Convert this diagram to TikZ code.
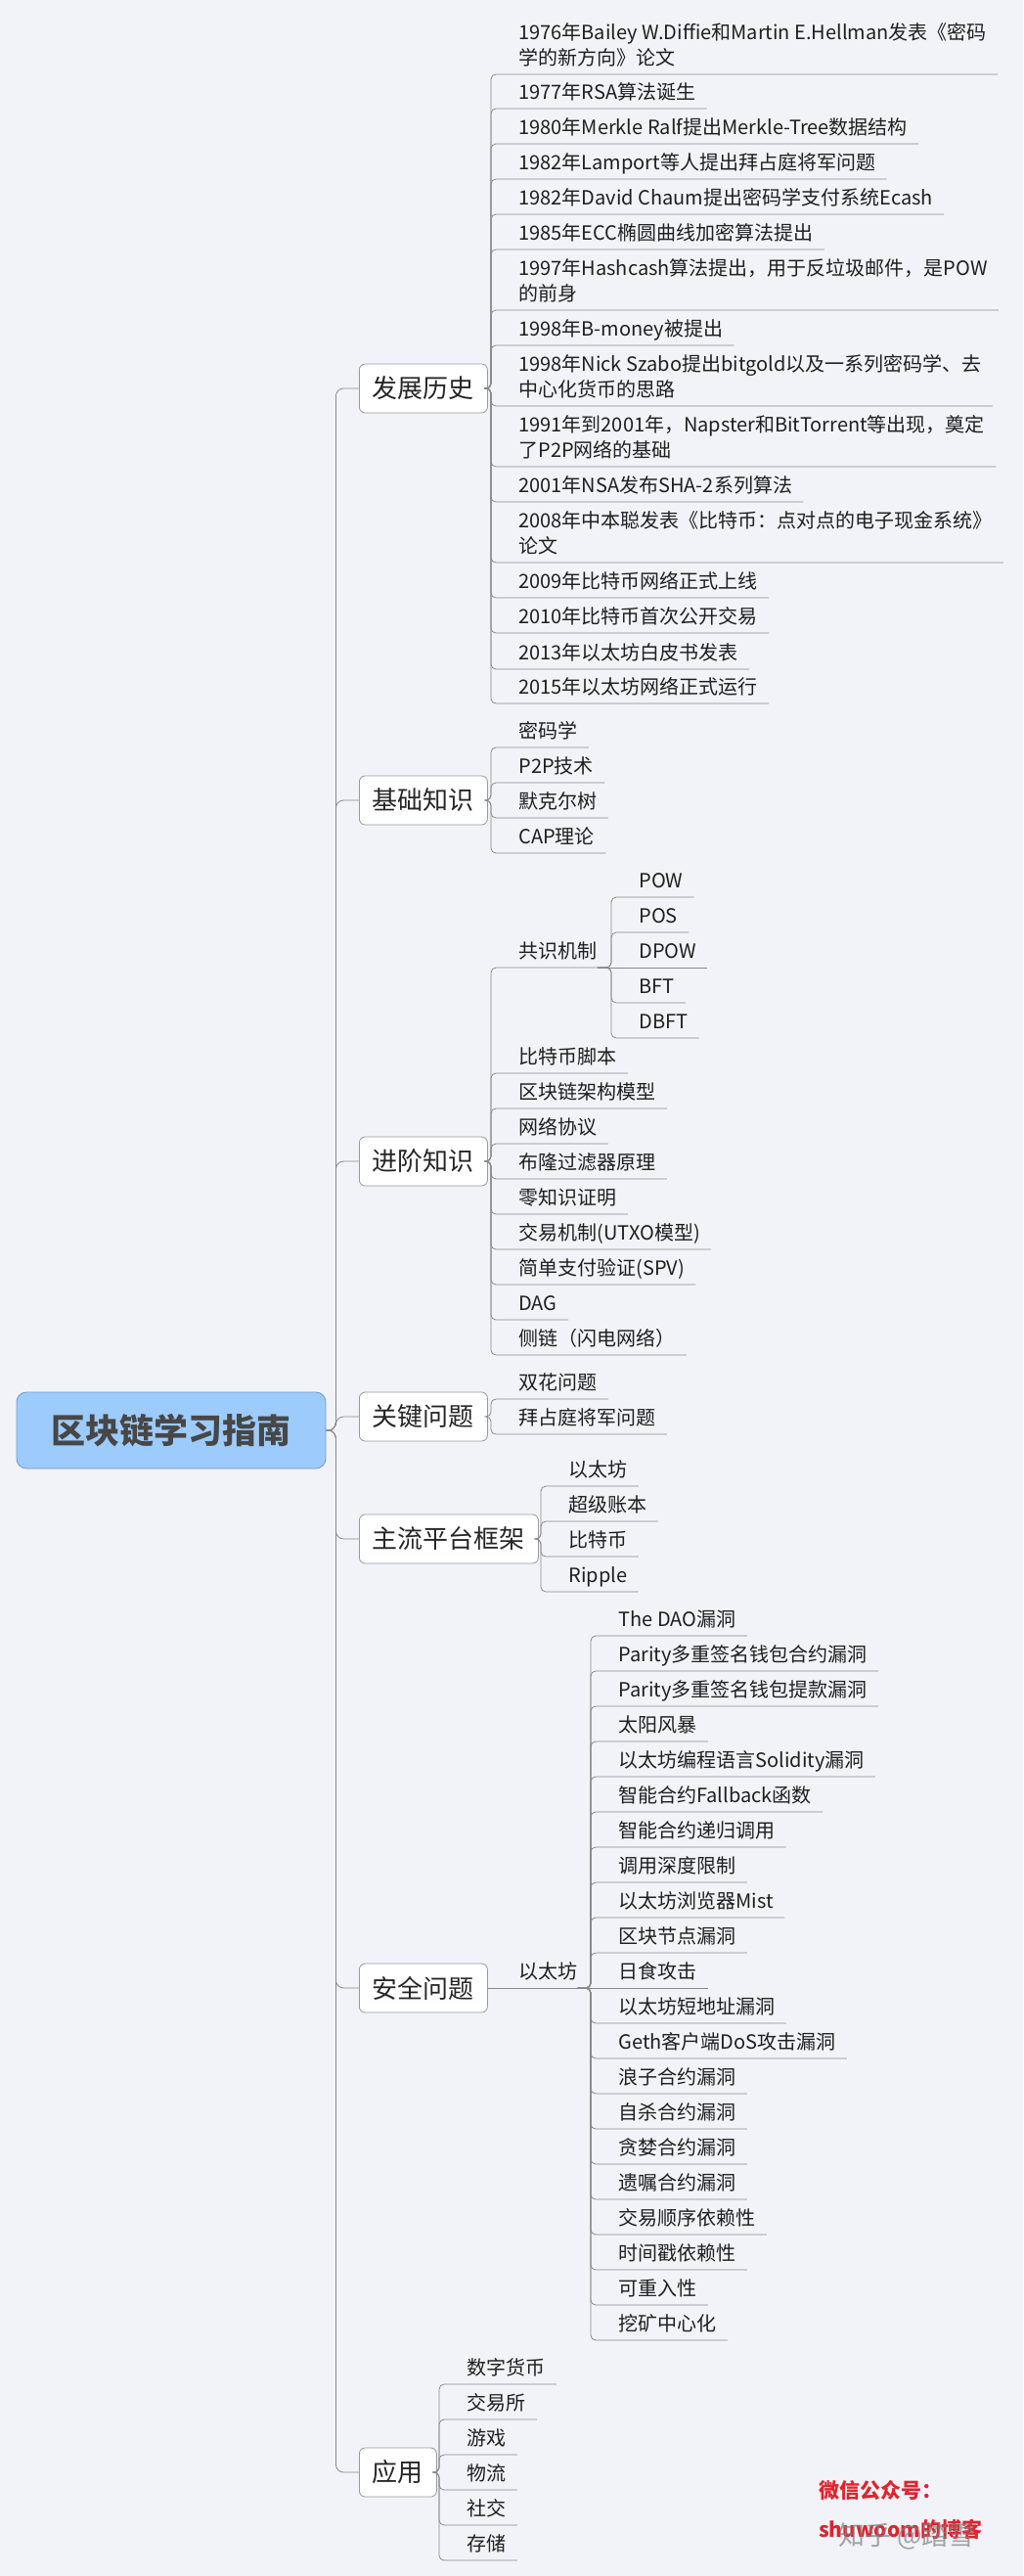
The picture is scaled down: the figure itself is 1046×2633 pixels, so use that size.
\documentclass[tikz,border=0pt]{standalone}
\usepackage{fontspec}
\setmainfont{Noto Sans CJK SC}
\usepackage{tikz}
\usetikzlibrary{positioning}
\definecolor{paper}{RGB}{242,243,248}
\definecolor{rootfill}{RGB}{157,203,252}
\definecolor{rootline}{RGB}{122,150,186}
\definecolor{wire}{RGB}{138,138,138}
\definecolor{wxred}{RGB}{222,36,46}

\begin{document}
\begin{tikzpicture}[x=0.5pt, y=-0.5pt,
  root/.style  = {draw=rootline, fill=rootfill, rounded corners=5pt,
                  minimum width=158pt, minimum height=39pt,
                  font=\fontsize{17.5}{20}\selectfont\bfseries, text=black!72},
  topic/.style = {draw=black!40, fill=white, rounded corners=3pt, anchor=west,
                  minimum height=25pt, inner xsep=6.75pt,
                  font=\fontsize{13}{15}\selectfont, text=black!85},
  leaf/.style  = {anchor=south west, inner xsep=0pt, inner ysep=2.5pt,
                  text depth=2.2pt, align=left,
                  font=\fontsize{10}{13}\selectfont, text=black!88},
  trunk/.style = {draw=wire, rounded corners=4pt},
  conn/.style  = {draw=wire, rounded corners=2.5pt},
  wx/.style    = {anchor=west, font=\fontsize{10.5}{12}\selectfont\bfseries, text=wxred}
]
\fill[paper] (0,0) rectangle (1046,2633);
\useasboundingbox (0,0) rectangle (1046,2633);

%%%%%%%%%%%%%%%%%%%%%%% ROOT AND TOPICS %%%%%%%%%%%%%%%%%%%%%%%%%%%%%%%%%
\node[root] (root) at (175,1462) {区块链学习指南};

\node[topic] (hist)  at (367,397)  {发展历史};
\node[topic] (basic) at (367,818)  {基础知识};
\node[topic] (adv)   at (367,1187) {进阶知识};
\node[topic] (key)   at (367,1448) {关键问题};
\node[topic] (plat)  at (367,1573) {主流平台框架};
\node[topic] (sec)   at (367,2032) {安全问题};
\node[topic] (app)   at (367,2527) {应用};

\foreach \t in {hist,basic,adv,key,plat,sec,app}
  \draw[trunk] (root.east) -- ++(5pt,0) |- (\t.west);

%%%%%%%%%%%%%%%%%%%%%%% 发展历史 %%%%%%%%%%%%%%%%%%%%%%%%%%%%%%%%%%%%%%%%%
\node[leaf] (h1)  at (530,76)  {1976年Bailey W.Diffie和Martin E.Hellman发表《密码\\学的新方向》论文};
\node[leaf] (h2)  at (530,111) {1977年RSA算法诞生};
\node[leaf] (h3)  at (530,147) {1980年Merkle Ralf提出Merkle-Tree数据结构};
\node[leaf] (h4)  at (530,183) {1982年Lamport等人提出拜占庭将军问题};
\node[leaf] (h5)  at (530,219) {1982年David Chaum提出密码学支付系统Ecash};
\node[leaf] (h6)  at (530,255) {1985年ECC椭圆曲线加密算法提出};
\node[leaf] (h7)  at (530,317) {1997年Hashcash算法提出，用于反垃圾邮件，是POW\\的前身};
\node[leaf] (h8)  at (530,353) {1998年B-money被提出};
\node[leaf] (h9)  at (530,415) {1998年Nick Szabo提出bitgold以及一系列密码学、去\\中心化货币的思路};
\node[leaf] (h10) at (530,477) {1991年到2001年，Napster和BitTorrent等出现，奠定\\了P2P网络的基础};
\node[leaf] (h11) at (530,513) {2001年NSA发布SHA-2系列算法};
\node[leaf] (h12) at (530,575) {2008年中本聪发表《比特币：点对点的电子现金系统》\\论文};
\node[leaf] (h13) at (530,611) {2009年比特币网络正式上线};
\node[leaf] (h14) at (530,647) {2010年比特币首次公开交易};
\node[leaf] (h15) at (530,684) {2013年以太坊白皮书发表};
\node[leaf] (h16) at (530,719) {2015年以太坊网络正式运行};
\foreach \i in {1,...,16}
  \draw[conn] (hist.east) -| ([xshift=-14pt]h\i.south west) -- ([xshift=5.5pt]h\i.south east);

%%%%%%%%%%%%%%%%%%%%%%% 基础知识 %%%%%%%%%%%%%%%%%%%%%%%%%%%%%%%%%%%%%%%%%
\node[leaf] (b1) at (530,764) {密码学};
\node[leaf] (b2) at (530,800) {P2P技术};
\node[leaf] (b3) at (530,836) {默克尔树};
\node[leaf] (b4) at (530,872) {CAP理论};
\foreach \i in {1,...,4}
  \draw[conn] (basic.east) -| ([xshift=-14pt]b\i.south west) -- ([xshift=5.5pt]b\i.south east);

%%%%%%%%%%%%%%%%%%%%%%% 进阶知识 %%%%%%%%%%%%%%%%%%%%%%%%%%%%%%%%%%%%%%%%%
\node[leaf] (a1)  at (530,989)  {共识机制};
\node[leaf] (a2)  at (530,1097) {比特币脚本};
\node[leaf] (a3)  at (530,1133) {区块链架构模型};
\node[leaf] (a4)  at (530,1169) {网络协议};
\node[leaf] (a5)  at (530,1205) {布隆过滤器原理};
\node[leaf] (a6)  at (530,1241) {零知识证明};
\node[leaf] (a7)  at (530,1277) {交易机制(UTXO模型)};
\node[leaf] (a8)  at (530,1313) {简单支付验证(SPV)};
\node[leaf] (a9)  at (530,1349) {DAG};
\node[leaf] (a10) at (530,1385) {侧链（闪电网络）};
\foreach \i in {1,...,10}
  \draw[conn] (adv.east) -| ([xshift=-14pt]a\i.south west) -- ([xshift=5.5pt]a\i.south east);

\node[leaf] (c1) at (653,917)  {POW};
\node[leaf] (c2) at (653,953)  {POS};
\node[leaf] (c3) at (653,989)  {DPOW};
\node[leaf] (c4) at (653,1025) {BFT};
\node[leaf] (c5) at (653,1061) {DBFT};
\foreach \i in {1,2,4,5}
  \draw[conn] (a1.south east) -| ([xshift=-14pt]c\i.south west) -- ([xshift=5.5pt]c\i.south east);
\draw[conn] (a1.south east) -- ([xshift=5.5pt]c3.south east);

%%%%%%%%%%%%%%%%%%%%%%% 关键问题 / 主流平台框架 %%%%%%%%%%%%%%%%%%%%%%%%%%%
\node[leaf] (k1) at (530,1430) {双花问题};
\node[leaf] (k2) at (530,1466) {拜占庭将军问题};
\foreach \i in {1,2}
  \draw[conn] (key.east) -| ([xshift=-14pt]k\i.south west) -- ([xshift=5.5pt]k\i.south east);

\node[leaf] (p1) at (581,1519) {以太坊};
\node[leaf] (p2) at (581,1555) {超级账本};
\node[leaf] (p3) at (581,1591) {比特币};
\node[leaf] (p4) at (581,1627) {Ripple};
\foreach \i in {1,...,4}
  \draw[conn] (plat.east) -| ([xshift=-14pt]p\i.south west) -- ([xshift=5.5pt]p\i.south east);

%%%%%%%%%%%%%%%%%%%%%%% 安全问题 %%%%%%%%%%%%%%%%%%%%%%%%%%%%%%%%%%%%%%%%%
\node[leaf] (s1) at (530,2032) {以太坊};
\draw[conn] (sec.east) -- ([xshift=5.5pt]s1.south east);

\node[leaf] (e1)  at (632,1672) {The DAO漏洞};
\node[leaf] (e2)  at (632,1708) {Parity多重签名钱包合约漏洞};
\node[leaf] (e3)  at (632,1744) {Parity多重签名钱包提款漏洞};
\node[leaf] (e4)  at (632,1780) {太阳风暴};
\node[leaf] (e5)  at (632,1816) {以太坊编程语言Solidity漏洞};
\node[leaf] (e6)  at (632,1852) {智能合约Fallback函数};
\node[leaf] (e7)  at (632,1888) {智能合约递归调用};
\node[leaf] (e8)  at (632,1924) {调用深度限制};
\node[leaf] (e9)  at (632,1960) {以太坊浏览器Mist};
\node[leaf] (e10) at (632,1996) {区块节点漏洞};
\node[leaf] (e11) at (632,2032) {日食攻击};
\node[leaf] (e12) at (632,2068) {以太坊短地址漏洞};
\node[leaf] (e13) at (632,2104) {Geth客户端DoS攻击漏洞};
\node[leaf] (e14) at (632,2140) {浪子合约漏洞};
\node[leaf] (e15) at (632,2176) {自杀合约漏洞};
\node[leaf] (e16) at (632,2212) {贪婪合约漏洞};
\node[leaf] (e17) at (632,2248) {遗嘱合约漏洞};
\node[leaf] (e18) at (632,2284) {交易顺序依赖性};
\node[leaf] (e19) at (632,2320) {时间戳依赖性};
\node[leaf] (e20) at (632,2356) {可重入性};
\node[leaf] (e21) at (632,2392) {挖矿中心化};
\foreach \i in {1,...,10,12,13,...,21}
  \draw[conn] (s1.south east) -| ([xshift=-14pt]e\i.south west) -- ([xshift=5.5pt]e\i.south east);
\draw[conn] (s1.south east) -- ([xshift=5.5pt]e11.south east);

%%%%%%%%%%%%%%%%%%%%%%% 应用 %%%%%%%%%%%%%%%%%%%%%%%%%%%%%%%%%%%%%%%%%%%%
\node[leaf] (y1) at (477,2437) {数字货币};
\node[leaf] (y2) at (477,2473) {交易所};
\node[leaf] (y3) at (477,2509) {游戏};
\node[leaf] (y4) at (477,2545) {物流};
\node[leaf] (y5) at (477,2581) {社交};
\node[leaf] (y6) at (477,2617) {存储};
\foreach \i in {1,...,6}
  \draw[conn] (app.east) -| ([xshift=-14pt]y\i.south west) -- ([xshift=5.5pt]y\i.south east);

% watermark
\node[wx] (wx1) at (830,2545) {微信公众号：};
\node[wx] (wx2) at (830,2585) {shuwoom的博客};
\node[anchor=west, font=\fontsize{13.5}{15}\selectfont, text=black!50, opacity=0.7]
  (zhihu) at (850,2592) {知乎 @踏雪};
\end{tikzpicture}
\end{document}
